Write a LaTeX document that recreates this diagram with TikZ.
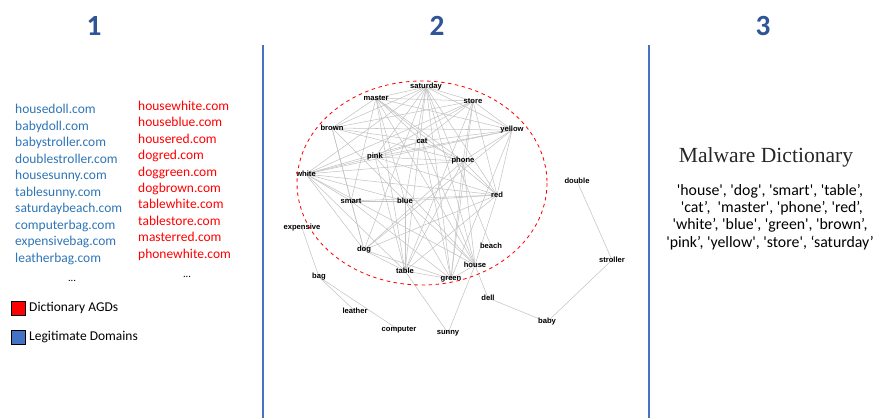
\documentclass[tikz,border=0pt]{standalone}
\usepackage{fontspec}
\setmainfont{Carlito}
\newfontfamily\graphfont{Liberation Sans}
\newfontfamily\titlefont{Liberation Serif}
\usepackage{xcolor}
\usepackage{tikz}
\usetikzlibrary{arrows.meta,positioning,calc}

\definecolor{headblue}{RGB}{47,85,151}
\definecolor{legitblue}{RGB}{46,117,182}
\definecolor{agdred}{RGB}{255,0,0}
\definecolor{sepblue}{RGB}{68,114,196}
\definecolor{edgegray}{RGB}{195,195,195}
\newcommand{\sqt}{\textquotesingle}

\pgfdeclarelayer{bg}
\pgfsetlayers{bg,main}

\begin{document}
\begin{tikzpicture}[
  x=0.03cm, y=-0.03cm,
  head/.style={text=headblue, font=\fontsize{25}{30}\selectfont\bfseries, inner sep=0pt},
  legit/.style={text=legitblue, font=\fontsize{11.5}{14}\selectfont, anchor=base west, inner sep=0pt},
  agd/.style={text=agdred, font=\fontsize{11.5}{14}\selectfont, anchor=base west, inner sep=0pt},
  word/.style={font=\graphfont\fontsize{6.5}{7}\selectfont\bfseries, inner sep=0.5pt},
  edge/.style={draw=edgegray, line width=0.45pt},
  sep/.style={draw=sepblue, line width=0.9pt},
  keybox/.style={draw=black, line width=0.8pt, minimum size=12pt, inner sep=0pt},
  keytext/.style={font=\fontsize{11.5}{14}\selectfont, anchor=west, inner sep=0pt}
]
  \useasboundingbox (0,0) rectangle (874,418);

  % panel headers and separators
  \node[head] (h1) at (94,26) {1};
  \node[head] (h2) at (437,26) {2};
  \node[head] (h3) at (763,26) {3};
  \coordinate (s1top) at (263,45);
  \coordinate (s1bot) at (263,418);
  \coordinate (s2top) at (649,45);
  \coordinate (s2bot) at (649,418);
  \draw[sep] (s1top) -- (s1bot);
  \draw[sep] (s2top) -- (s2bot);

  % panel 1: domain lists
  \foreach \d [count=\i] in {housedoll.com, babydoll.com, babystroller.com,
      doublestroller.com, housesunny.com, tablesunny.com, saturdaybeach.com,
      computerbag.com, expensivebag.com, leatherbag.com}
    \node[legit] (legit\i) at (15,{113.5+16.5*(\i-1)}) {\d};
  \node[text=black, font=\small] (legitdots) at (72,281) {...};
  \foreach \d [count=\i] in {housewhite.com, houseblue.com, housered.com,
      dogred.com, doggreen.com, dogbrown.com, tablewhite.com, tablestore.com,
      masterred.com, phonewhite.com}
    \node[agd] (agd\i) at (138,{110.5+16.4*(\i-1)}) {\d};
  \node[text=black, font=\small] (agddots) at (187,277) {...};

  % legend
  \node[keybox, fill=agdred] (keyagd) at (18,308) {};
  \node[keytext, right=3pt of keyagd] (keyagdtxt) {Dictionary AGDs};
  \node[keybox, fill=sepblue] (keylegit) at (18,337) {};
  \node[keytext, right=3pt of keylegit] (keylegittxt) {Legitimate Domains};

  % panel 2: word graph
  \node[word] (saturday) at (426,87) {saturday};
  \node[word] (master) at (376,98) {master};
  \node[word] (store) at (473,101) {store};
  \node[word] (brown) at (332,128) {brown};
  \node[word] (yellow) at (512,130) {yellow};
  \node[word] (cat) at (422,141) {cat};
  \node[word] (pink) at (375,157) {pink};
  \node[word] (phone) at (463,161) {phone};
  \node[word] (white) at (306,174) {white};
  \node[word] (red) at (497,195) {red};
  \node[word] (smart) at (351,201) {smart};
  \node[word] (blue) at (405,201) {blue};
  \node[word] (expensive) at (302,228) {expensive};
  \node[word] (beach) at (491,246) {beach};
  \node[word] (dog) at (364,250) {dog};
  \node[word] (house) at (475,265) {house};
  \node[word] (table) at (405,271) {table};
  \node[word] (green) at (451,279) {green};
  \node[word] (bag) at (319,277) {bag};
  \node[word] (dell) at (488,298) {dell};
  \node[word] (leather) at (355,311) {leather};
  \node[word] (baby) at (547,322) {baby};
  \node[word] (computer) at (399,330) {computer};
  \node[word] (sunny) at (448,333) {sunny};
  \node[word] (double) at (577,181) {double};
  \node[word] (stroller) at (612,260) {stroller};

  \begin{pgfonlayer}{bg}
    \foreach \a/\b in {saturday/master, saturday/store, saturday/brown,
        saturday/white, saturday/pink, saturday/blue, saturday/table,
        saturday/green, saturday/house, saturday/red, saturday/yellow,
        saturday/dog, saturday/beach,
        master/brown, master/store, master/yellow, master/cat, master/blue,
        master/table, master/house, master/red, master/smart, master/phone,
        store/brown, store/cat, store/pink, store/white, store/yellow,
        store/red, store/green, store/phone, store/table,
        brown/yellow, brown/cat, brown/smart, brown/dog, brown/blue,
        brown/phone,
        yellow/cat, yellow/pink, yellow/white, yellow/phone, yellow/red,
        yellow/green, yellow/dog,
        cat/pink, cat/phone, cat/white, cat/green, cat/house,
        pink/phone, pink/white, pink/red, pink/table, pink/house,
        phone/white, phone/red, phone/house, phone/dog, phone/table,
        phone/green,
        white/smart, white/dog, white/blue, white/house, white/table,
        white/red,
        red/smart, red/blue, red/dog, red/table, red/house,
        smart/blue, smart/dog, smart/green,
        blue/table, blue/green, blue/house,
        dog/table, dog/green, table/green, green/house,
        house/dell, house/sunny, table/sunny,
        bag/expensive, bag/leather, bag/computer,
        dell/baby, baby/stroller, stroller/double}
      \draw[edge] (\a.center) -- (\b.center);
  \end{pgfonlayer}

  % dictionary region
  \coordinate (dictring) at (422,183);
  \draw[agdred, dashed, line width=0.7pt] (dictring) ellipse [x radius=125, y radius=102];

  % panel 3: dictionary
  \node[font=\titlefont\fontsize{18.4}{21}\selectfont, text=black!85] (dicttitle) at (766,157) {Malware Dictionary};
  \node[font=\fontsize{13.5}{14.8}\selectfont, align=center] (dictwords) at (770,217)
    {\sqt house\sqt, \sqt dog\sqt, \sqt smart\sqt, \sqt table’,\\
     \ \sqt cat’,\ \ \sqt master\sqt, \sqt phone’, \sqt red’,\\
     \sqt white’, \sqt blue\sqt, \sqt green\sqt, \sqt brown’,\\
     \sqt pink’, \sqt yellow\sqt, \sqt store\sqt, ‘saturday’};
\end{tikzpicture}
\end{document}
